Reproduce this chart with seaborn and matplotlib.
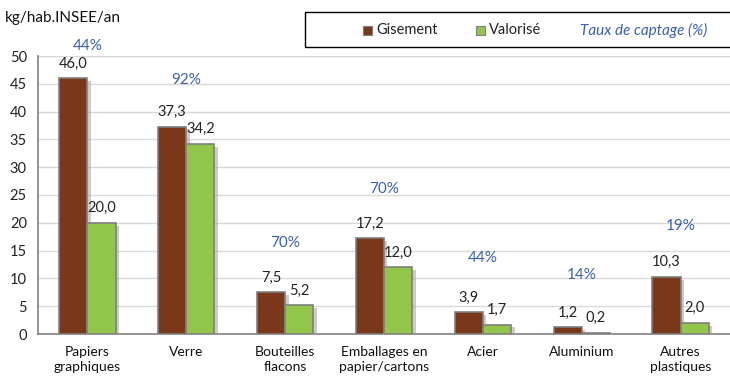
import matplotlib
matplotlib.use("Agg")
import matplotlib.pyplot as plt
import matplotlib.patheffects as pe
from matplotlib.patches import Rectangle
import seaborn as sns
import pandas as pd

categories = ["Papiers\ngraphiques", "Verre", "Bouteilles\nflacons", "Emballages en\npapier/cartons",
              "Acier", "Aluminium", "Autres\nplastiques"]
gisement = [46.0, 37.3, 7.5, 17.2, 3.9, 1.2, 10.3]
valorise = [20.0, 34.2, 5.2, 12.0, 1.7, 0.2, 2.0]
taux = ["44%", "92%", "70%", "70%", "44%", "14%", "19%"]
taux_y = [51.8, 45.7, 16.4, 26.1, 13.7, 10.6, 19.4]
series = ["Gisement", "Valorisé"]

df = pd.DataFrame({
    "cat": categories * 2,
    "val": gisement + valorise,
    "serie": [series[0]] * len(categories) + [series[1]] * len(categories),
})

sns.set_theme(style="white")
plt.rcParams["font.family"] = ["Lato", "DejaVu Sans"]

brown = "#7a3719"
green = "#92c64b"
blue = "#3a5fb0"
W, H = 730, 376


def fx(px):
    return px / W


def fy(py):
    return 1 - py / H


fig = plt.figure(figsize=(7.3, 3.76), dpi=100)
ax = fig.add_axes([fx(38), fy(334), 692 / W, (334 - 56) / H])

sns.barplot(data=df, x="cat", y="val", hue="serie", palette=[brown, green], saturation=1,
            width=0.57, gap=0, edgecolor="#7f7f7f", linewidth=1.2, ax=ax,
            legend=False, zorder=3)

shadow = [pe.SimplePatchShadow(offset=(2.5, -2), shadow_rgbFace="#999999", alpha=0.5), pe.Normal()]
for p in ax.patches:
    p.set_path_effects(shadow)

for cont in ax.containers:
    labels = [f"{v:.1f}".replace(".", ",") for v in cont.datavalues]
    ax.bar_label(cont, labels=labels, padding=5.5, fontsize=10.5, color="#222222")

for i, (t, y) in enumerate(zip(taux, taux_y)):
    ax.text(i, y, t, ha="center", va="center", color=blue, fontsize=11, clip_on=False)

ax.set_ylim(0, 50)
ax.set_xlim(-0.5, 6.42)
ax.set_yticks(range(0, 51, 5))
ax.yaxis.grid(True, color="#d9d9d9", linewidth=1)
ax.set_axisbelow(True)
ax.set_xlabel("")
ax.set_ylabel("")
for s in ["top", "right"]:
    ax.spines[s].set_visible(False)
ax.spines["left"].set_color("#868686")
ax.spines["bottom"].set_color("#868686")
ax.set_xticks([i - 0.5 for i in range(8)], minor=True)
ax.set_xticks(range(7))
ax.set_xticklabels(categories, fontsize=10, color="#111111", linespacing=1.25)
ax.tick_params(axis="x", which="major", length=0, pad=9)
ax.tick_params(axis="x", which="minor", length=5, color="#868686", direction="out")
ax.tick_params(axis="y", length=5, color="#868686", direction="out", labelsize=10.5,
               labelcolor="#222222", pad=3)

fig.text(fx(5), fy(18), "kg/hab.INSEE/an", fontsize=11, va="center", ha="left", color="#111111")

# legend box with series swatches and the capture-rate caption
fig.add_artist(Rectangle((fx(305), fy(47)), fx(740) - fx(305), fy(12) - fy(47),
                         transform=fig.transFigure, facecolor="white", edgecolor="black", linewidth=1))
yc = fy(30)
for x0, color, label in [(363, brown, series[0]), (476, green, series[1])]:
    fig.add_artist(Rectangle((fx(x0), yc - 4.5 / H), 9 / W, 9 / H, transform=fig.transFigure,
                             facecolor=color, edgecolor="#7f7f7f", linewidth=0.8))
    fig.text(fx(x0 + 13), yc, label, fontsize=10.5, va="center", ha="left", color="#222222")
fig.text(fx(580), yc, "Taux de captage (%)", fontsize=11, va="center", ha="left",
         color=blue, style="italic")

fig.savefig("out.png", dpi=100)
